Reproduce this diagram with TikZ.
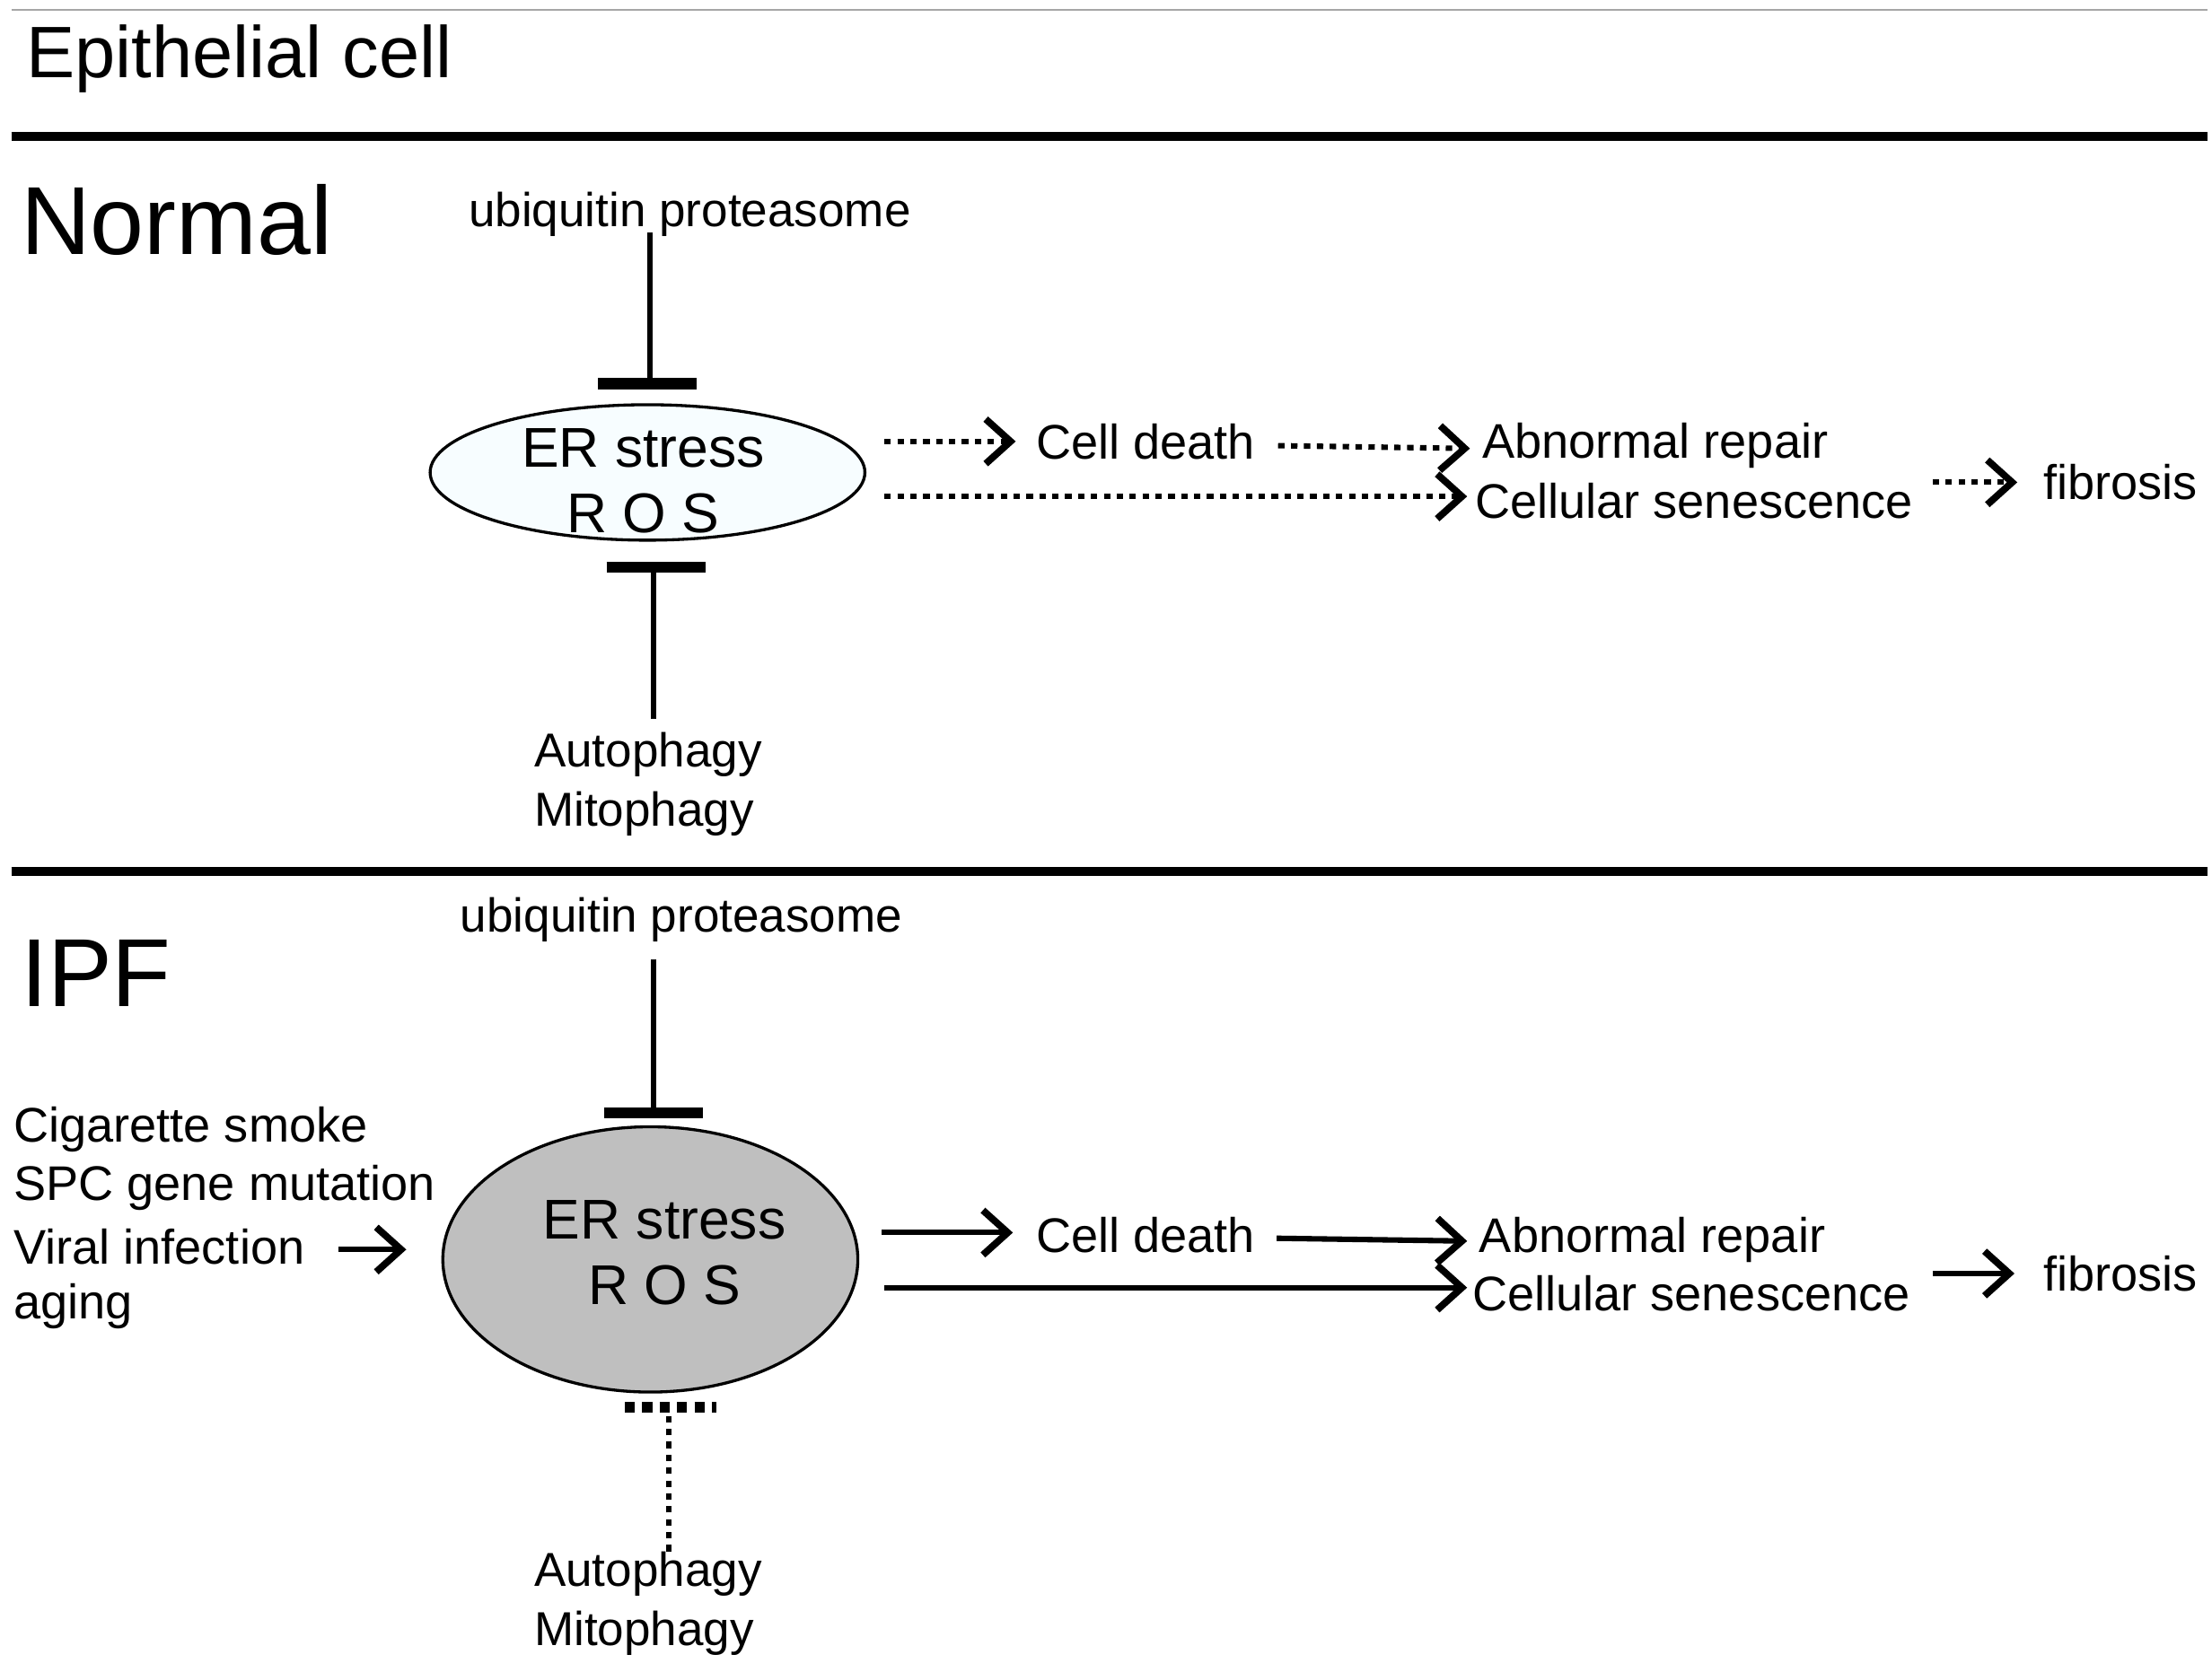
\documentclass[tikz,border=0pt]{standalone}
\usepackage{fontspec}
\setmainfont{Liberation Sans}
\usetikzlibrary{arrows.meta,shapes.geometric}
\begin{document}
\begin{tikzpicture}[x=0.01cm,y=-0.01cm,
  lbl/.style={font=\fontsize{9.6pt}{11pt}\selectfont,inner sep=0pt},
  txt/.style={font=\fontsize{9.8pt}{12pt}\selectfont,inner sep=0pt},
  big/.style={font=\fontsize{19.5pt}{24pt}\selectfont,inner sep=0pt,anchor=west},
  er/.style={font=\fontsize{11.3pt}{14pt}\selectfont,inner sep=0pt},
  arr/.style={line width=1.1pt,-{Straight Barb[length=5pt,width=9pt,line width=1.4pt]}},
  darr/.style={arr,dash pattern=on 1.3pt off 1.3pt},
  inh/.style={line width=1.1pt},
  bar/.style={line width=2.2pt},
  sep/.style={line width=1.8pt}]
\useasboundingbox (0,0) rectangle (1568,1185);
\draw[gray!70,line width=0.5pt] (8,7) -- (1565,7);
\node[anchor=west,inner sep=0pt,font=\fontsize{14.7pt}{16pt}\selectfont] (title) at (18,42) {Epithelial cell};
\draw[sep] (8,97) -- (1565,97);
\draw[sep] (8,618) -- (1565,618);
% Normal
\node[big] (normal) at (14,156) {Normal};
\node[lbl] (ub1) at (489,152) {ubiquitin proteasome};
\coordinate (b1l) at (424,272); \coordinate (b1r) at (494,272);
\draw[bar] (b1l) -- (b1r);
\coordinate (u1s) at (461,165); \coordinate (u1e) at (461,272);
\draw[inh] (u1s) -- (u1e);
\node[draw,ellipse,fill=cyan!3,line width=0.6pt,inner sep=0pt,minimum width=3.08cm,minimum height=0.96cm] (e1) at (459,335) {};
\node[er] (er1) at (456,318) {ER stress};
\node[er] (ros1) at (456,364) {R O S};
\coordinate (b2l) at (430,402); \coordinate (b2r) at (500,402);
\draw[bar] (b2l) -- (b2r);
\coordinate (a1s) at (463,510); \coordinate (a1e) at (463,402);
\draw[inh] (a1s) -- (a1e);
\node[lbl,anchor=west] (au1) at (378,535) {Autophagy};
\node[lbl,anchor=west] (mi1) at (378,577) {Mitophagy};
\node[txt] (cd1) at (812,313) {Cell death};
\node[txt,anchor=west] (ar1) at (1050,316) {Abnormal repair};
\node[txt,anchor=west] (cs1) at (1045,355) {Cellular senescence};
\node[txt] (fb1) at (1503,342) {fibrosis};
\coordinate (p1) at (627,313); \coordinate (p2) at (720,313);
\draw[darr] (p1) -- (p2);
\coordinate (p3) at (906,316); \coordinate (p4) at (1042,318);
\draw[darr] (p3) -- (p4);
\coordinate (p5) at (627,352); \coordinate (p6) at (1040,352);
\draw[darr] (p5) -- (p6);
\coordinate (p7) at (1370,342); \coordinate (p8) at (1430,342);
\draw[darr] (p7) -- (p8);
% IPF
\node[big] (ipf) at (14,690) {IPF};
\node[lbl] (ub2) at (483,652) {ubiquitin proteasome};
\coordinate (u2s) at (463,680); \coordinate (u2e) at (463,789);
\draw[inh] (u2s) -- (u2e);
\coordinate (b3l) at (428,789); \coordinate (b3r) at (498,789);
\draw[bar] (b3l) -- (b3r);
\node[draw,ellipse,fill=black!25,line width=0.6pt,inner sep=0pt,minimum width=2.94cm,minimum height=1.88cm] (e2) at (461,893) {};
\node[er] (er2) at (471,865) {ER stress};
\node[er] (ros2) at (471,911) {R O S};
\node[txt,anchor=west] (c1) at (9,801) {Cigarette smoke};
\node[txt,anchor=west] (c2) at (9,842) {SPC gene mutation};
\node[txt,anchor=west] (c3) at (9,884) {Viral infection};
\node[txt,anchor=west] (c4) at (9,926) {aging};
\coordinate (q0) at (240,886); \coordinate (q00) at (288,886);
\draw[arr] (q0) -- (q00);
\node[txt] (cd2) at (812,876) {Cell death};
\node[txt,anchor=west] (ar2) at (1048,879) {Abnormal repair};
\node[txt,anchor=west] (cs2) at (1043,917) {Cellular senescence};
\node[txt] (fb2) at (1503,903) {fibrosis};
\coordinate (q1) at (625,874); \coordinate (q2) at (718,874);
\draw[arr] (q1) -- (q2);
\coordinate (q3) at (905,878); \coordinate (q4) at (1040,880);
\draw[arr] (q3) -- (q4);
\coordinate (q5) at (627,913); \coordinate (q6) at (1040,913);
\draw[arr] (q5) -- (q6);
\coordinate (q7) at (1370,903); \coordinate (q8) at (1428,903);
\draw[arr] (q7) -- (q8);
\coordinate (b4l) at (443,998); \coordinate (b4r) at (508,998);
\draw[bar,dash pattern=on 2pt off 1.5pt] (b4l) -- (b4r);
\coordinate (a2s) at (474,1100); \coordinate (a2e) at (474,1000);
\draw[inh,dash pattern=on 1.3pt off 1.3pt] (a2s) -- (a2e);
\node[lbl,anchor=west] (au2) at (378,1116) {Autophagy};
\node[lbl,anchor=west] (mi2) at (378,1158) {Mitophagy};
\end{tikzpicture}
\end{document}
